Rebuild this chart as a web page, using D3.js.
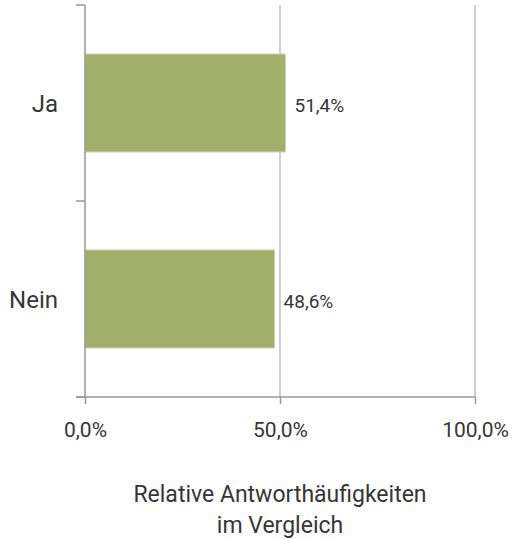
<!DOCTYPE html>
<html>
<head>
<meta charset="utf-8">
<script src="https://cdn.jsdelivr.net/npm/d3@7"></script>
<style>
  body { margin: 0; background: #fff; }
  text { font-family: Roboto, "Noto Sans", sans-serif; fill: #363636; }
</style>
</head>
<body>
<div id="chart"></div>
<script>
var categories = ['Ja', 'Nein'];
var values = [51.4, 48.6];
var tickValues = [0, 50, 100];
var titleLines = ['Relative Antworthäufigkeiten', 'im Vergleich'];

(function draw() {

  var width = 513, height = 539;
  var left = 85, right = 475, top = 5, bottom = 397;

  var fmt = function (d) { return d.toFixed(1).replace('.', ',') + '%'; };

  var x = d3.scaleLinear()
      .domain([0, 100])
      .range([left, right]);

  var y = d3.scaleBand()
      .domain(categories)
      .range([top, bottom])
      .paddingInner(0.5)
      .paddingOuter(0.25);

  var svg = d3.select('#chart')
    .append('svg')
      .attr('width', width)
      .attr('height', height);

  // vertical gridlines
  svg.append('g')
    .selectAll('line')
      .data(tickValues.slice(1))
      .enter()
    .append('line')
      .attr('x1', function (d) { return x(d); })
      .attr('x2', function (d) { return x(d); })
      .attr('y1', top)
      .attr('y2', bottom)
      .attr('stroke', '#bfbfbf')
      .attr('stroke-width', 1.5);

  // bars
  svg.append('g')
    .selectAll('rect')
      .data(categories)
      .enter()
    .append('rect')
      .attr('x', x(0))
      .attr('y', function (d) { return y(d); })
      .attr('width', function (d, i) { return x(values[i]) - x(0); })
      .attr('height', y.bandwidth())
      .attr('fill', '#a0b06b')
      .attr('stroke', '#c9d3ac')
      .attr('stroke-width', 1);

  // value labels
  svg.append('g')
    .selectAll('text')
      .data(categories)
      .enter()
    .append('text')
      .attr('x', function (d, i) { return x(values[i]) + 9; })
      .attr('y', function (d) { return y(d) + y.bandwidth() / 2 + 9; })
      .attr('font-size', 19)
      .text(function (d, i) { return fmt(values[i]); });

  // y axis
  var yAxis = svg.append('g')
      .attr('transform', 'translate(' + left + ',0)');
  yAxis.append('line')
      .attr('x1', 0).attr('x2', 0)
      .attr('y1', top).attr('y2', bottom)
      .attr('stroke', '#999').attr('stroke-width', 1.5);
  var boundaries = [top].concat(categories.map(function (d) {
    return y(d) + y.bandwidth() + y.step() * 0.25;
  }));
  yAxis.selectAll('line.tk')
      .data(boundaries)
      .enter()
    .append('line')
      .attr('class', 'tk')
      .attr('x1', -9).attr('x2', 0)
      .attr('y1', function (d) { return d; })
      .attr('y2', function (d) { return d; })
      .attr('stroke', '#999').attr('stroke-width', 1.5);
  yAxis.selectAll('text')
      .data(categories)
      .enter()
    .append('text')
      .attr('x', -27)
      .attr('y', function (d) { return y(d) + y.bandwidth() / 2 + 9; })
      .attr('text-anchor', 'end')
      .attr('font-size', 24)
      .text(function (d) { return d; });

  // x axis
  var xAxis = d3.axisBottom(x)
      .tickValues(tickValues)
      .tickFormat(fmt)
      .tickSize(7)
      .tickPadding(0);

  var gx = svg.append('g')
      .attr('transform', 'translate(0,' + bottom + ')')
      .call(xAxis);
  gx.attr('font-family', null);
  gx.select('.domain')
      .attr('d', 'M' + (left - 9) + ',0H' + right)
      .attr('stroke', '#999').attr('stroke-width', 1.5);
  gx.selectAll('.tick line').attr('stroke', '#999').attr('stroke-width', 1.5);
  gx.selectAll('.tick text')
      .attr('y', 40)
      .attr('dy', null)
      .attr('font-size', 21)
      .attr('fill', '#363636');

  // axis title
  svg.append('g')
    .selectAll('text')
      .data(titleLines)
      .enter()
    .append('text')
      .attr('x', x(50))
      .attr('y', function (d, i) { return 502 + i * 31; })
      .attr('text-anchor', 'middle')
      .attr('font-size', 23)
      .text(function (d) { return d; });
})();
</script>
</body>
</html>
